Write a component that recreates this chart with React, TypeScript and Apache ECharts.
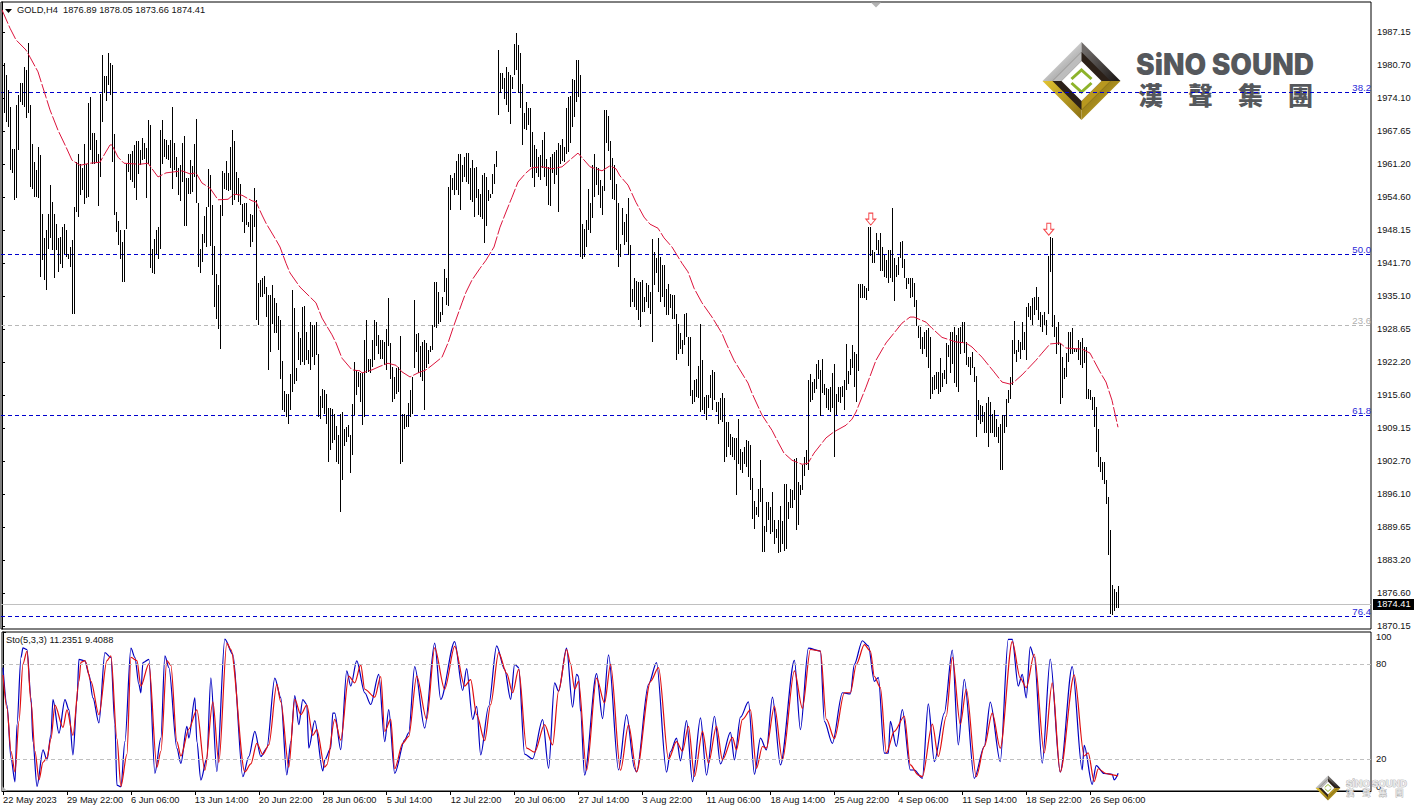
import React, { useEffect, useRef } from "react";
import * as echarts from "echarts";

const FONT = "'Liberation Sans', Arial, sans-serif";

// price axis labels as printed
const priceTicks = [1987.15,1980.70,1974.10,1967.65,1961.20,1954.60,1948.15,1941.70,1935.10,1928.65,1922.20,1915.60,1909.15,1902.70,1896.10,1889.65,1883.20,1876.60,1870.15];
const stochTicks = [100,80,20,0];
const timeLabels = ["22 May 2023","29 May 22:00","6 Jun 06:00","13 Jun 14:00","20 Jun 22:00","28 Jun 06:00","5 Jul 14:00","12 Jul 22:00","20 Jul 06:00","27 Jul 14:00","3 Aug 22:00","11 Aug 06:00","18 Aug 14:00","25 Aug 22:00","4 Sep 06:00","11 Sep 14:00","18 Sep 22:00","26 Sep 06:00"];
const barsPerLabel = 32;
const lastPrice = 1874.41;
const fibNames = ["38.2","50.0","23.6","61.8","76.4"];
const fibPrices = [1975.27,1943.35,1929.4,1911.6,1872.0];
const fibColors = ["#0000cd","#0000cd","#b8b8b8","#0000cd","#0000cd"];
const arrowBars = [434.4,523.4];
const arrowPrices = [1950.3,1948.3];

// high,low for each H4 bar, in order
const barHighLow = [
1982.4,1971.1,1981.0,1971.1,1978.7,1969.5,1975.7,1968.5,1972.3,1959.9,1964.2,1959.3,1964.2,1954.0,1972.8,1954.4,1974.7,1963.9,1977.2,1973.4,
1977.2,1972.8,1980.3,1972.4,1979.7,1970.3,1984.9,1971.1,1972.8,1956.7,1965.1,1956.3,1961.6,1954.7,1959.9,1954.7,1964.5,1954.4,1962.9,1938.9,
1951.4,1942.2,1946.5,1938.3,1948.1,1936.3,1951.4,1944.5,1957.0,1946.5,1953.7,1944.2,1951.4,1938.6,1949.4,1944.2,1946.5,1939.9,1946.8,1941.5,
1948.8,1940.6,1949.4,1943.5,1948.1,1942.9,1943.4,1942.5,1944.8,1940.8,1946.1,1931.7,1952.7,1931.7,1961.6,1951.7,1963.1,1950.8,1961.2,1955.0,
1960.3,1956.0,1965.1,1953.2,1961.2,1954.4,1973.2,1954.7,1974.4,1963.9,1967.2,1961.2,1967.2,1961.2,1965.9,1961.6,1963.2,1952.9,1974.9,1958.6,
1982.6,1969.5,1978.5,1975.1,1978.5,1973.6,1983.1,1976.7,1981.1,1974.7,1980.6,1961.6,1967.0,1951.1,1951.7,1947.8,1950.0,1945.2,1948.1,1942.5,
1945.8,1937.9,1948.2,1937.9,1961.2,1948.4,1963.1,1959.6,1963.1,1958.0,1963.8,1957.6,1964.9,1956.5,1965.7,1954.0,1965.7,1959.2,1964.0,1960.9,
1966.2,1961.9,1965.2,1962.2,1964.4,1954.4,1969.8,1961.2,1968.8,1940.6,1944.5,1939.6,1946.3,1939.4,1948.1,1943.5,1948.8,1942.5,1967.8,1944.5,
1969.8,1961.2,1966.0,1962.6,1965.9,1962.2,1964.9,1961.9,1965.9,1960.3,1972.3,1956.3,1965.3,1959.9,1962.6,1958.6,1960.3,1955.0,1960.9,1953.9,
1965.2,1957.6,1966.6,1949.0,1958.3,1949.0,1958.3,1955.3,1961.9,1955.3,1960.7,1955.7,1965.1,1958.6,1970.1,1953.4,1953.4,1940.9,1944.4,1939.7,
1947.3,1941.9,1950.9,1945.5,1952.7,1944.8,1960.1,1952.7,1958.9,1945.0,1953.0,1939.3,1945.0,1932.9,1939.4,1930.7,1937.3,1928.7,1953.0,1924.8,
1959.8,1950.9,1959.4,1956.3,1961.8,1956.1,1959.3,1955.9,1964.5,1956.0,1967.8,1953.0,1965.7,1954.0,1959.6,1955.0,1958.3,1953.7,1957.2,1953.0,
1953.2,1949.8,1953.5,1947.6,1953.4,1949.1,1949.8,1948.8,1951.4,1944.8,1951.1,1945.8,1956.5,1948.8,1954.0,1930.4,1937.8,1929.4,1938.3,1935.0,
1938.6,1935.0,1939.1,1935.6,1937.0,1931.0,1935.3,1920.5,1935.3,1924.1,1937.3,1929.7,1934.7,1927.8,1933.7,1927.8,1931.2,1924.5,
1930.5,1918.9,1922.4,1912.6,1916.4,1912.3,1915.9,1911.3,1915.8,1910.0,1919.7,1912.6,1936.4,1916.2,1932.7,1917.9,1920.9,1918.5,1928.1,1922.5,
1926.8,1921.5,1933.0,1922.2,1933.1,1921.5,1928.1,1922.5,1924.5,1921.8,1930.0,1920.5,1929.4,1923.2,1929.4,1921.5,1930.0,1923.5,1923.8,1911.3,
1915.4,1911.0,1916.9,1913.0,1916.6,1912.0,1915.9,1910.0,1913.0,1902.5,1913.0,1904.9,1912.8,1906.1,1912.0,1906.7,1909.5,1902.5,1907.7,1902.1,
1912.0,1892.6,1912.3,1898.9,1909.0,1905.7,1909.4,1906.4,1909.7,1907.3,1907.7,1900.3,1913.9,1903.8,1922.2,1911.7,1920.5,1915.6,1920.2,1917.2,
1919.9,1914.3,1919.9,1909.7,1926.4,1911.3,1930.4,1919.9,1922.8,1920.2,1922.8,1919.9,1926.4,1921.2,1930.4,1922.5,1930.0,1925.4,1927.4,1923.8,
1926.4,1922.8,1926.4,1922.8,1926.1,1921.5,1928.7,1920.5,1934.8,1925.4,1925.8,1918.9,1921.2,1914.3,1919.2,1914.9,1921.0,1915.9,1921.2,1916.2,
1927.2,1902.1,1912.0,1902.5,1912.0,1909.0,1911.7,1909.4,1914.1,1909.4,1916.6,1911.3,1919.2,1912.0,1934.3,1920.9,1927.6,1924.1,1927.8,1919.9,
1925.4,1919.2,1926.1,1918.5,1926.4,1912.6,1925.8,1920.9,1924.5,1921.8,1925.4,1924.1,1929.4,1924.5,1937.9,1929.1,1937.9,1928.9,1936.0,1929.7,
1932.0,1930.0,1935.0,1931.4,1940.4,1936.0,1938.6,1933.3,1956.7,1933.1,1958.9,1952.1,1958.3,1956.0,1959.3,1955.0,1961.8,1956.0,1963.1,1955.0,
1963.2,1952.1,1960.9,1957.6,1962.6,1958.6,1963.4,1957.6,1963.4,1957.3,1960.3,1954.0,1961.9,1953.7,1960.3,1950.7,1960.6,1954.4,1956.3,1951.1,
1955.3,1950.7,1958.9,1950.4,1959.3,1945.6,1958.6,1948.9,1956.0,1953.9,1955.3,1954.4,1959.2,1955.3,1961.2,1957.3,1963.8,1960.5,1983.7,1970.8,
1979.0,1975.1,1979.0,1976.0,1978.0,1973.9,1980.3,1972.8,1979.3,1971.4,1978.7,1969.1,1978.3,1976.0,1984.8,1978.7,1986.9,1979.7,1984.6,1975.1,
1983.1,1972.1,1976.9,1964.9,1971.1,1968.1,1973.4,1967.8,1972.1,1968.8,1972.1,1960.6,1967.5,1958.3,1964.9,1956.7,1964.2,1959.3,1962.6,1958.6,
1962.9,1958.0,1965.9,1960.3,1967.5,1958.6,1962.2,1956.8,1960.6,1953.0,1962.6,1952.9,1963.2,1959.3,1963.6,1957.3,1963.9,1958.9,1965.2,1951.7,
1964.9,1961.2,1966.0,1961.7,1964.5,1961.6,1972.1,1963.2,1974.4,1963.6,1974.5,1965.2,1977.8,1968.5,1977.7,1970.5,1981.6,1973.4,1981.6,1974.4,
1978.7,1942.9,1949.3,1942.5,1948.4,1942.9,1950.1,1944.8,1956.3,1948.1,
1953.4,1947.6,1960.9,1950.6,1963.1,1954.7,1960.6,1957.0,1960.3,1955.0,1958.0,1952.4,1956.8,1951.1,1971.8,1955.9,1971.8,1965.2,1970.6,1963.8,
1965.7,1958.0,1962.4,1954.2,1960.9,1954.0,1957.3,1944.2,1953.4,1940.9,1945.4,1942.9,1952.4,1947.1,1949.8,1945.2,1951.4,1945.8,1954.4,1943.2,
1945.2,1932.9,1936.6,1934.0,1938.6,1933.0,1938.1,1932.4,1938.0,1930.4,1938.0,1929.1,1938.3,1932.0,1935.0,1932.0,1937.8,1934.0,1937.3,1932.7,
1936.0,1931.7,1946.4,1926.1,1943.9,1937.3,1942.6,1939.6,1946.5,1936.0,1942.9,1934.0,1941.2,1935.0,1941.2,1933.0,1936.6,1931.4,1937.6,1931.4,
1935.6,1932.7,1935.3,1930.7,1935.3,1930.7,1931.7,1922.6,1929.7,1923.8,1927.8,1924.8,1926.4,1923.8,1931.7,1925.5,1931.8,1927.0,1927.0,1921.3,
1927.0,1915.4,1916.7,1913.9,1918.7,1914.3,1918.9,1915.3,1921.3,1915.0,1929.7,1912.3,1922.6,1912.7,1915.3,1912.0,1915.6,1910.7,1915.6,1913.0,
1919.5,1915.0,1920.5,1912.7,1920.2,1914.6,1914.3,1912.3,1914.3,1910.0,1915.0,1910.7,1916.0,1910.4,1915.0,1902.5,1910.4,1903.5,1910.4,1905.4,
1907.9,1903.8,1907.3,1903.5,1907.1,1902.8,1907.1,1895.9,1911.0,1902.1,1905.1,1900.8,1904.4,1900.2,1905.4,1902.1,1906.7,1901.5,1906.6,1899.5,
1905.8,1896.9,1899.4,1891.3,1894.7,1889.3,1893.6,1892.0,1897.2,1891.6,1902.8,1894.6,1897.4,1884.7,1889.8,1884.7,1894.6,1888.7,1894.6,1891.0,
1893.6,1888.3,1896.6,1888.7,1891.0,1886.4,1889.3,1887.4,1891.0,1884.5,1893.8,1884.7,1890.8,1886.4,1898.2,1885.0,1898.2,1885.4,1894.6,1891.3,
1897.2,1893.3,1896.9,1893.3,1903.1,1894.9,1903.3,1889.0,1898.5,1890.0,1897.9,1895.9,1901.8,1896.9,1903.5,1899.6,1904.9,1901.8,1918.7,1900.8,
1919.7,1914.3,1918.2,1914.6,1918.9,1916.0,1921.8,1916.9,1922.6,1918.9,1920.5,1911.5,1922.8,1916.0,1917.8,1915.6,1917.1,1913.0,1916.9,1912.7,
1917.2,1912.3,1919.9,1913.0,1921.8,1903.5,1915.9,1911.7,1917.2,1914.3,1917.2,1914.0,1917.4,1915.3,1918.6,1912.7,1925.7,1916.6,1920.4,1917.9,
1922.8,1919.5,1925.5,1920.9,1924.2,1917.3,1923.8,1914.3,1937.6,1920.4,1937.6,1934.7,1937.6,1934.7,1937.1,1934.7,1936.8,1934.3,1948.7,1936.2,
1948.8,1943.0,1944.2,1941.6,1943.9,1941.7,1947.5,1944.2,1946.2,1943.2,1947.5,1940.1,1944.9,1940.1,1943.2,1938.8,1942.2,1938.6,1944.2,1937.8,
1944.3,1938.6,1952.4,1937.9,1942.6,1934.2,1941.2,1938.9,1942.9,1939.3,1945.8,1942.6,1946.0,1940.6,1942.4,1938.6,1938.6,1936.6,1938.6,1937.6,
1938.6,1934.7,1938.6,1935.0,1937.8,1933.0,1934.3,1929.2,1929.2,1926.8,1929.1,1924.8,1927.1,1923.8,1928.1,1924.8,1928.4,1923.2,1928.8,1920.9,
1927.1,1914.9,1919.2,1915.9,1919.6,1916.6,1920.2,1916.9,1920.2,1915.9,1923.0,1916.3,1919.9,1917.3,1920.5,1918.9,1925.8,1917.9,1925.5,1923.2,
1928.1,1919.9,1928.1,1921.7,1929.1,1918.0,1927.4,1917.3,1928.8,1916.3,1929.1,1923.8,1930.1,1925.8,1930.1,1923.9,1926.1,1921.5,1923.2,1921.2,
1923.2,1919.6,1924.2,1920.9,1921.2,1918.2,1919.4,1907.4,1914.6,1910.7,1913.6,1910.0,1913.4,1910.4,1912.3,1908.1,1914.0,1908.1,1915.3,1905.4,
1914.3,1908.1,1912.0,1908.1,1912.7,1907.4,1911.0,1907.4,1909.4,1906.1,1910.0,1900.8,1911.7,1900.8,1911.7,1908.1,1914.9,1909.4,1916.6,1914.0,
1919.2,1914.9,1926.5,1917.6,1930.2,1923.8,1924.5,1922.2,1926.5,1924.2,1926.1,1922.8,1930.1,1924.5,1928.1,1924.5,1933.0,1922.5,1933.8,1931.1,
1933.2,1930.4,1934.7,1929.4,1935.0,1931.4,1937.0,1932.4,1935.0,1930.4,1932.0,1929.1,1931.4,1928.1,1932.0,1929.4,1930.4,1927.4,1943.0,1931.7,
1946.8,1939.9,1946.5,1929.1,1931.4,1927.1,1929.1,1923.8,1930.1,1925.5,1925.8,1913.8,1923.2,1915.0,1920.9,1918.9,1924.0,1919.2,1928.1,1922.2,
1928.1,1923.8,1928.8,1923.8,1924.8,1924.2,1924.8,1924.2,1926.5,1922.5,1926.1,1921.5,1926.8,1920.9,1925.1,1921.9,1925.1,1914.9,1916.9,1914.9,
1916.6,1914.6,1915.3,1912.7,1915.2,1909.4,1913.3,1904.4,1909.0,1901.5,1903.5,1900.5,1902.5,1898.9,1902.5,1898.2,1898.9,1894.2,1895.5,1884.1,
1889.0,1872.5,1878.2,1872.3,1877.5,1873.1,1876.9,1873.6,1878.05,1873.66
];

// moving average, read at these bars
const maBars = [0,4,7,12,14,18,22,24,28,32,35,39,44,49,51,54,55,58,61,69,73,78,82,90,94,97,100,104,108,113,116,120,125,127,130,132,137,139,142,144,149,157,160,165,167,170,175,179,180,185,189,193,197,200,204,208,212,215,220,223,226,230,232,235,239,242,246,249,252,255,258,262,265,270,275,280,285,288,294,300,304,307,309,313,317,321,324,328,331,335,340,343,346,350,355,360,362,366,373,375,380,385,388,391,395,400,403,406,412,416,422,425,427,432,437,442,450,454,456,462,465,470,477,482,485,490,496,500,504,506,510,517,520,524,529,532,540,544,549,552,555,558];
const maValues = [1991.5,1987.9,1985.6,1983.6,1982.2,1979.3,1974.3,1971.8,1967.8,1964.5,1961.9,1960.9,1961.3,1961.5,1962.9,1964.9,1964.9,1962.5,1961.3,1961.1,1961.3,1958.6,1959.4,1959.8,1959.2,1959.4,1957.4,1956.4,1954.1,1954.2,1955.2,1955.0,1953.9,1953.7,1951.1,1949.5,1946.2,1944.8,1941.6,1939.7,1936.9,1933.8,1930.8,1927.5,1925.9,1922.9,1920.6,1920.4,1920.0,1920.6,1921.3,1921.9,1921.5,1920.2,1919.2,1920.0,1920.6,1921.5,1923.1,1925.9,1929.4,1933.8,1935.9,1938.3,1940.6,1942.2,1944.8,1948.7,1951.7,1954.6,1957.6,1959.4,1960.4,1960.6,1960.2,1960.6,1962.3,1963.3,1960.6,1959.8,1960.8,1960.2,1958.8,1957.0,1953.6,1950.7,1949.3,1948.5,1946.6,1944.8,1941.6,1939.9,1936.7,1933.8,1931.0,1927.8,1925.9,1922.5,1918.0,1916.0,1911.7,1908.7,1906.4,1904.2,1902.8,1902.0,1902.2,1904.2,1907.2,1908.4,1909.7,1910.9,1912.3,1917.2,1922.5,1925.9,1929.8,1931.0,1931.0,1930.0,1928.8,1927.0,1926.1,1925.9,1925.1,1923.1,1920.2,1918.2,1917.8,1918.2,1919.6,1922.5,1923.9,1925.7,1925.9,1924.9,1924.7,1923.9,1920.2,1918.2,1914.6,1909.3];

// stochastic %K, read at these bars
const kBars = [0,2,4,6,7,9,10,12,14,15,17,20,22,24,25,28,31,33,35,37,38,41,43,45,48,51,54,56,57,59,61,64,66,68,69,70,73,76,79,81,83,87,89,92,93,96,97,99,102,104,107,111,115,120,123,126,129,132,136,139,142,144,146,148,150,152,153,156,160,161,164,165,166,169,172,174,177,181,184,188,191,193,196,201,203,206,211,216,219,226,230,232,235,237,239,243,247,251,254,256,258,261,265,270,273,276,278,282,285,287,288,289,291,297,300,303,308,312,316,317,323,327,332,334,337,339,342,345,349,352,356,359,364,366,369,373,376,379,382,385,389,396,399,403,409,411,415,420,424,426,430,433,436,438,441,443,444,447,450,454,456,460,463,466,471,475,478,481,486,491,494,499,503,505,508,510,512,514,516,520,524,529,535,540,541,545,547,551,555,556,558];
const kValues = [77.6,54,20.6,5.8,41.7,84,90,89,58.6,31,2.9,25.9,19.5,35.4,57.5,36.4,57.5,51,22.7,56.5,82.8,81.8,73.4,58.6,42.8,87,84,41.7,3.7,2.7,31,89.8,84,67,61.7,80.7,82.8,11.1,33.3,85,77.6,26.9,17.4,40.6,33.3,58.6,31,6.9,20.6,71.2,12.2,95.5,86,9,21.7,37.5,21.7,26.9,71,58.6,10.1,31,60,41.7,57.5,54.4,27,44.3,12.6,19.6,27,49,49,26,75.5,66,81.8,61.8,54.4,73.4,31,51.2,11.1,32.2,36.5,78.2,39.6,93,57.6,94,63.2,77,45,53.3,22.7,53.3,91.3,76.5,57.6,79.7,77.6,23.2,20.2,44.9,14.3,68,62.8,89.8,52.7,73.4,72,50,10,73.8,45.5,85.6,13.2,48,14.3,12,67,80.8,11.8,24.8,33.3,19,44.3,5.9,46,10,47,17,36.9,19.6,46.4,56,10.5,33.3,25.9,59,16.4,82.2,38.6,89.8,88,43.8,30,61.8,61.1,79.7,94.5,91.3,69,71.3,23.8,23.8,43.8,28,51.2,13.2,13.2,8,54.8,18.5,49,88.6,29,70.2,8,28,55.9,18.5,95.3,95.3,66,73.4,58.6,90.7,84,17.5,82.9,11.8,78.2,13.2,28.7,4.2,16,11,10.5,7,11.2];

// stochastic %D, read at these bars
const dBars = [0,2,4,6,8,10,12,14,16,18,20,22,24,26,30,32,35,38,39,41,44,48,52,54,57,59,62,64,67,69,73,77,79,82,84,87,89,93,97,101,105,108,112,114,121,124,127,130,133,137,139,143,146,149,152,155,157,161,162,166,169,173,176,179,181,186,189,191,194,196,200,203,207,212,216,221,226,231,234,237,241,244,248,252,255,258,262,266,271,275,278,282,284,286,288,292,297,301,304,309,313,317,324,328,333,337,340,343,346,350,353,357,360,365,367,370,374,377,380,382,386,390,396,400,404,409,412,416,421,424,427,431,434,436,439,442,446,451,454,458,460,465,468,472,475,479,482,487,491,495,499,505,509,512,516,521,525,529,536,541,543,546,548,552,556,558];
const dValues = [73,52,25,12,44,80,88,56,25,7,18,21,33,54,40,51,35,69,81,82,69,48,82,85,33,3,23,84,82,66,80,15,25,82,79,31,22,39,51,13,56,18,93,89,12,17,30,23,29,67,56,15,57.6,48,54,35,38.6,15,16.4,45,32,72.3,68,79.3,64,59,72,37.5,45,14,30,34.3,72.3,45,90,64,91,66,70,48,31.6,54.4,87,74,61.8,76.5,27,24.4,41.7,29,63,89,80,64,69,13,71,55.4,79.7,13,41.7,12,69,77.6,20,31,25,40.7,9,37.5,17.5,40.7,19.6,33.7,26,45,51,14.3,28,27,53.3,19.6,75.5,52,89,88,45,33,61.8,61.8,79.7,92,88,72,65,24,37.5,47,16.4,10,9,42,21.7,47,84,42,64,9,28,49,27,94,71,65,86,24,68,12,73,22,24,6,14,11,10,9.4];

const barSeriesData = Array.from({ length: barHighLow.length / 2 }, (_, i) => [i, barHighLow[2 * i], barHighLow[2 * i + 1]]);
const zip = (a: number[], b: number[]) => a.map((v, i) => [v, b[i]]);

const CHINESE = "'Noto Sans CJK TC', sans-serif";
const LABEL_SIZE = 9.3;

function diamond(cx: number, cy: number, h: number, fill: any, z = -1) {
  return { type: "polygon", z, silent: true, shape: { points: [[cx, cy - h], [cx + h, cy], [cx, cy + h], [cx - h, cy]] }, style: { fill } };
}
function tri(points: number[][], fill: any, z = -1) {
  return { type: "polygon", z, silent: true, shape: { points }, style: { fill } };
}
function logo(cx: number, cy: number, k: number) {
  const h = 39 * k;
  const grad = (a: string, b: string, x = 0, y = 0, x2 = 1, y2 = 1) => new echarts.graphic.LinearGradient(x, y, x2, y2, [{ offset: 0, color: a }, { offset: 1, color: b }]);
  return [
    tri([[cx - h, cy], [cx, cy - h], [cx, cy]], grad("#f4f4f4", "#8f8f8f", 0.2, 0.1, 0.9, 0.9)),
    tri([[cx, cy - h], [cx + h, cy], [cx, cy]], grad("#6e6a68", "#201c1a", 0.1, 0.2, 1, 0.8)),
    tri([[cx - h, cy], [cx, cy + h], [cx, cy]], grad("#e2c431", "#8a6f14", 0, 0, 1, 1)),
    tri([[cx, cy + h], [cx + h, cy], [cx, cy]], grad("#7c6412", "#d8b92a", 0, 0, 1, 1)),
    diamond(cx, cy, 29 * k, "#2b2018"),
    tri([[cx - 29 * k, cy], [cx, cy - 29 * k], [cx, cy - 20 * k], [cx - 20 * k, cy]], "#bdbdbd"),
    tri([[cx, cy + 29 * k], [cx + 29 * k, cy], [cx + 20 * k, cy], [cx, cy + 20 * k]], "#b8981f"),
    diamond(cx, cy, 20 * k, "#ffffff"),
    { type: "polyline", z: -1, silent: true, shape: { points: [[cx - 10 * k, cy - 2 * k], [cx, cy - 11 * k], [cx + 10 * k, cy - 2 * k]] }, style: { stroke: "#8db32a", lineWidth: 3 * k, fill: "none" } },
    { type: "polyline", z: -1, silent: true, shape: { points: [[cx - 10 * k, cy + 2 * k], [cx, cy + 11 * k], [cx + 10 * k, cy + 2 * k]] }, style: { stroke: "#8db32a", lineWidth: 3 * k, fill: "none" } },
  ];
}

const option: any = {
  animation: false,
  backgroundColor: "#ffffff",
  textStyle: { fontFamily: FONT },
  grid: [
    { left: 1, top: 2, width: 1370, height: 627, show: true, borderColor: "#000", borderWidth: 1, backgroundColor: "transparent" },
    { left: 1, top: 632, width: 1370, height: 159, show: true, borderColor: "#000", borderWidth: 1, backgroundColor: "transparent" },
  ],
  xAxis: [
    { type: "value", gridIndex: 0, min: -0.5, max: 684.5, show: false, splitLine: { show: false } },
    {
      type: "value", gridIndex: 1, min: -0.5, max: 684.5, position: "bottom", splitLine: { show: false },
      axisLine: { show: true, lineStyle: { color: "#000" } },
      axisTick: { show: true, length: 4, inside: false, customValues: timeLabels.map((_, i) => i * barsPerLabel), lineStyle: { color: "#000" } },
      axisLabel: {
        show: true, customValues: timeLabels.map((_, i) => i * barsPerLabel), align: "left", margin: 4,
        color: "#111", fontSize: LABEL_SIZE, fontFamily: FONT,
        formatter: (v: number) => timeLabels[Math.round(v / barsPerLabel)] ?? "",
      },
    },
  ],
  yAxis: [
    {
      type: "value", gridIndex: 0, position: "right", min: 1869.56, max: 1993.06, scale: true, splitLine: { show: false },
      axisLine: { show: true, lineStyle: { color: "#000" } },
      axisTick: { show: true, length: 3, customValues: priceTicks, lineStyle: { color: "#000" } },
      axisLabel: { show: true, customValues: priceTicks, margin: 6, color: "#111", fontSize: LABEL_SIZE, fontFamily: FONT, formatter: (v: number) => v.toFixed(2) },
    },
    {
      type: "value", gridIndex: 1, position: "right", min: 0, max: 100, splitLine: { show: false },
      axisLine: { show: true, lineStyle: { color: "#000" } },
      axisTick: { show: true, length: 3, customValues: stochTicks, lineStyle: { color: "#000" } },
      axisLabel: { show: true, customValues: stochTicks, margin: 5, color: "#111", fontSize: LABEL_SIZE, fontFamily: FONT, verticalAlignMaxLabel: "bottom", verticalAlignMinLabel: "top", formatter: (v: number) => String(v) },
    },
  ],
  series: [
    {
      type: "custom", name: "GOLD,H4", xAxisIndex: 0, yAxisIndex: 0, silent: true, clip: true,
      encode: { x: 0, y: [1, 2] },
      data: barSeriesData,
      renderItem: (_: any, api: any) => {
        const top = api.coord([api.value(0), api.value(1)]);
        const bot = api.coord([api.value(0), api.value(2)]);
        const px = Math.round(top[0]) + 0.5;
        return { type: "line", shape: { x1: px, y1: Math.round(top[1]), x2: px, y2: Math.round(bot[1]) }, style: { stroke: "#000", lineWidth: 1 } };
      },
      z: 3,
    },
    {
      type: "line", name: "MA", xAxisIndex: 0, yAxisIndex: 0, data: zip(maBars, maValues), showSymbol: false, silent: true, z: 4,
      lineStyle: { color: "#dc143c", width: 1, type: [15, 2] },
      markLine: {
        silent: true, symbol: "none", z: 2, animation: false,
        data: [
          ...fibPrices.map((p, i) => ({
            yAxis: p,
            lineStyle: { color: fibColors[i], type: [4, 3], width: 1 },
            label: { show: true, position: "insideEndTop", formatter: fibNames[i], color: fibColors[i] === "#0000cd" ? "#2a2ad8" : "#b0b0b0", fontSize: 9.6, fontFamily: FONT, distance: 0, padding: 0 },
          })),
          {
            yAxis: lastPrice,
            lineStyle: { color: "#c0c0c0", type: "solid", width: 1 },
            label: { show: true, position: "end", formatter: lastPrice.toFixed(2), color: "#fff", backgroundColor: "#000", fontSize: LABEL_SIZE, fontFamily: FONT, distance: 2, padding: [1, 8, 1, 4] },
          },
        ],
      },
      markPoint: {
        silent: true, animation: false,
        symbol: "path://M3 0H7V6H10L5 12L0 6H3Z", symbolSize: [10, 12], symbolKeepAspect: false,
        itemStyle: { color: "#fff", borderColor: "#f4464a", borderWidth: 1 },
        label: { show: false },
        data: arrowBars.map((b, i) => ({ coord: [b, arrowPrices[i]] })),
      },
    },
    {
      type: "line", name: "%K", xAxisIndex: 1, yAxisIndex: 1, data: zip(kBars, kValues), showSymbol: false, silent: true, z: 3,
      smooth: 0.3, smoothMonotone: "x",
      lineStyle: { color: "#0000c0", width: 1.2 },
      markLine: {
        silent: true, symbol: "none", animation: false, label: { show: false },
        lineStyle: { color: "#c0c0c0", type: [4, 3], width: 1 },
        data: [{ yAxis: 80 }, { yAxis: 20 }],
      },
    },
    {
      type: "line", name: "%D", xAxisIndex: 1, yAxisIndex: 1, data: zip(dBars, dValues), showSymbol: false, silent: true, z: 4,
      smooth: 0.3, smoothMonotone: "x",
      lineStyle: { color: "#e01010", width: 1.2 },
    },
  ],
  graphic: [
    ...logo(1081.5, 81, 1),
    { type: "text", z: -1, silent: true, x: 1136, y: 50, scaleY: 1.05, style: { text: "SiNO SOUND", fill: "#55585c", fontFamily: "Inter, sans-serif", fontWeight: 900, fontSize: 28 } },
    { type: "text", z: -1, silent: true, x: 1138, y: 81, style: { text: "漢　聲　集　團", fill: "#55585c", fontFamily: CHINESE, fontWeight: 900, fontSize: 25 } },
    tri([[5, 9], [12, 9], [8.5, 13]], "#000", 10),
    tri([[871, 2.5], [881, 2.5], [876, 7.5]], "#b4b4b4", 10),
    tri([[2, 786], [7, 791], [2, 791]], "#b0b0b0", 10),
    { type: "text", z: 10, silent: true, x: 17, y: 5, style: { text: "GOLD,H4  1876.89 1878.05 1873.66 1874.41", fill: "#111", fontFamily: FONT, fontSize: LABEL_SIZE } },
    { type: "text", z: 10, silent: true, x: 6, y: 635, style: { text: "Sto(5,3,3) 11.2351 9.4088", fill: "#111", fontFamily: FONT, fontSize: LABEL_SIZE } },
    ...logo(1328, 788, 0.32).map((e: any) => ({ ...e, z: 11 })),
    { type: "text", z: 11, silent: true, x: 1346, y: 778, style: { text: "SiNO SOUND", fill: "#e8e8e8", stroke: "#9a9a9a", lineWidth: 0.6, fontFamily: "Inter, sans-serif", fontWeight: 800, fontSize: 9.6 } },
    { type: "text", z: 11, silent: true, x: 1346, y: 788, style: { text: "漢　聲　集　團", fill: "#e8e8e8", stroke: "#9a9a9a", lineWidth: 0.5, fontFamily: CHINESE, fontWeight: 700, fontSize: 8.2 } },
  ],
};

export default function App() {
  const ref = useRef<HTMLDivElement>(null);
  useEffect(() => {
    if (!ref.current) return;
    const chart = echarts.init(ref.current, undefined, { renderer: "svg" });
    chart.setOption(option);
    return () => chart.dispose();
  }, []);
  return <div ref={ref} style={{ position: "absolute", left: 0, top: 0, width: 1414, height: 810, background: "#fff" }} />;
}
